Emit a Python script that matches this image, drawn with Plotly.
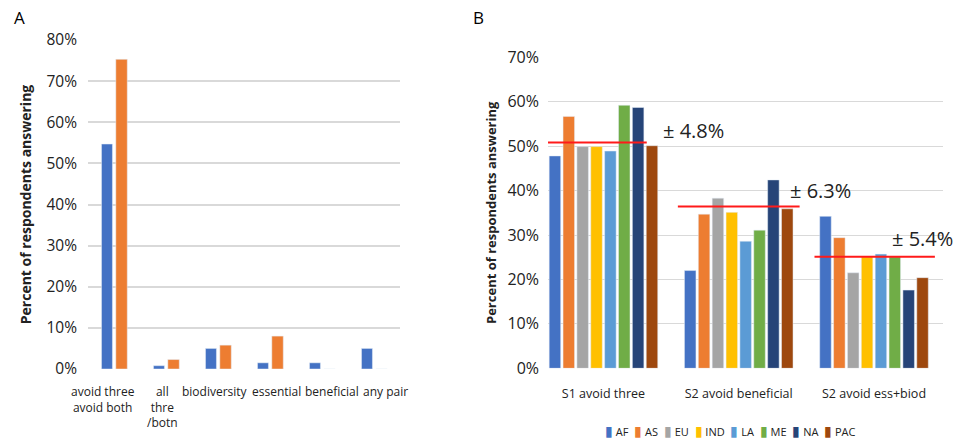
import plotly.graph_objects as go

# ---------------- data ----------------
cats_a = ["avoid three<br>avoid both", "all<br>thre<br>/botn", "biodiversity",
          "essential", "beneficial", "any pair"]
series_a_names = ["S1", "S2"]
blue_a = [54.7, 0.8, 5.0, 1.5, 1.5, 5.0]
orange_a = [75.3, 2.3, 5.8, 8.0, 0.0, 0.0]

cats_b = ["S1 avoid three", "S2 avoid beneficial", "S2 avoid ess+biod"]
regions = ["AF", "AS", "EU", "IND", "LA", "ME", "NA", "PAC"]
af = [47.8, 22.0, 34.2]
as_ = [56.7, 34.7, 29.4]
eu = [49.9, 38.3, 21.5]
ind = [49.9, 35.1, 25.1]
la = [48.9, 28.6, 25.7]
me = [59.2, 31.1, 25.1]
na = [58.7, 42.4, 17.6]
pac = [50.1, 35.9, 20.4]
means_b = [50.8, 36.4, 25.1]
margins_b = [4.8, 6.3, 5.4]

ticks_a = [0, 10, 20, 30, 40, 50, 60, 70, 80]
ticks_b = [0, 10, 20, 30, 40, 50, 60, 70]
ticklabels_a = [f"{t}%" for t in ticks_a]
ticklabels_b = [f"{t}%" for t in ticks_b]

# ---------------- style ----------------
FONT = "Open Sans"
TXT = "#222222"
GRID = "#d9d9d9"
colors_a = ["#4472C4", "#ED7D31"]
colors_b = ["#4472C4", "#ED7D31", "#A5A5A5", "#FFC000", "#5B9BD5",
            "#70AD47", "#264478", "#9E480E"]
values_b = [af, as_, eu, ind, la, me, na, pac]
offsets_a = [-0.24, 0.035]
widths_a = [0.21, 0.22]
label_shift_a = [-11.5, -4, -3.5, 6, 10, 11.5]   # px shift of category labels
line_span = [(-0.41, 0.32), (-0.45, 0.45), (-0.44, 0.45)]
label_pos = [(0.662, 53.6), (1.601, 40.1), (2.355, 29.3)]
# white patches behind the margin labels (hide gridlines only)
patch = [(0.322, 0.950, 49.5, 57.7), (1.305, 1.882, 37.0, 43.3),
         (2.119, 2.622, 26.6, 32.3)]

fig = go.Figure()

for name, vals, col, off, w in zip(series_a_names, [blue_a, orange_a], colors_a,
                                   offsets_a, widths_a):
    fig.add_trace(go.Bar(x=cats_a, y=vals, name=name, marker_color=col,
                         offset=off, width=w, xaxis="x", yaxis="y",
                         showlegend=False))

for name, vals, col in zip(regions, values_b, colors_b):
    fig.add_trace(go.Bar(x=cats_b, y=vals, name=name, marker_color=col,
                         xaxis="x2", yaxis="y2", showlegend=False))

shapes = []
annotations = []
for p in patch:
    shapes.append(dict(type="rect", xref="x2", yref="y2", x0=p[0], x1=p[1],
                       y0=p[2], y1=p[3], fillcolor="white", line_width=0,
                       layer="below"))
for i, (m, span) in enumerate(zip(means_b, line_span)):
    shapes.append(dict(type="line", xref="x2", yref="y2",
                       x0=i + span[0], x1=i + span[1], y0=m, y1=m,
                       line=dict(color="#FF1A1A", width=2)))
for mg, pos in zip(margins_b, label_pos):
    annotations.append(dict(xref="x2", yref="y2", x=pos[0], y=pos[1],
                            text=f"± {mg}%", showarrow=False,
                            xanchor="center", yanchor="middle",
                            font=dict(family=FONT, size=20, color=TXT)))

# category labels of panel A (placed like the original layout)
for cat, sh in zip(cats_a, label_shift_a):
    annotations.append(dict(xref="x", yref="y", x=cat, y=0, text=cat,
                            showarrow=False, xanchor="center", yanchor="top",
                            align="center", xshift=sh, yshift=-12,
                            font=dict(family=FONT, size=12, color=TXT)))

# custom compact legend
legend_txt = "  ".join(
    f"<span style='color:{c};font-size:14px'>▮</span> {r}"
    for r, c in zip(regions, colors_b))
annotations.append(dict(xref="paper", yref="paper", x=730 / 958, y=9 / 439,
                        text=legend_txt, showarrow=False, xanchor="center",
                        yanchor="middle",
                        font=dict(family=FONT, size=11, color=TXT)))
annotations.append(dict(xref="paper", yref="paper", x=12 / 958, y=1 - 18 / 439,
                        text="A", showarrow=False, xanchor="left",
                        yanchor="middle", font=dict(family=FONT, size=17, color="#000")))
annotations.append(dict(xref="paper", yref="paper", x=471 / 958, y=1 - 18 / 439,
                        text="B", showarrow=False, xanchor="left",
                        yanchor="middle", font=dict(family=FONT, size=17, color="#000")))

fig.update_layout(
    width=958, height=439,
    margin=dict(l=0, r=0, t=0, b=0, autoexpand=False),
    paper_bgcolor="white", plot_bgcolor="white",
    barmode="group", bargap=0.18, bargroupgap=0.17,
    font=dict(family=FONT, color=TXT),
    xaxis=dict(domain=[88 / 958, 400 / 958], range=[-0.5, 5.5],
               showgrid=False, zeroline=False, showline=False,
               showticklabels=False, automargin=False, anchor="y"),
    yaxis=dict(domain=[(439 - 369) / 439, (439 - 40) / 439], range=[0, 80],
               tickmode="array", tickvals=ticks_a, ticktext=ticklabels_a,
               showgrid=True, gridcolor=GRID, gridwidth=1.8, zeroline=False,
               tickfont=dict(size=15.5, color=TXT), ticklabelstandoff=10,
               title=dict(text="<b>Percent of respondents answering</b>",
                          font=dict(size=14, color=TXT), standoff=11),
               automargin=False, anchor="x"),
    xaxis2=dict(domain=[548 / 958, 943 / 958], range=[-0.41, 2.51],
                showgrid=False, zeroline=False, showline=False,
                tickangle=0,
                tickfont=dict(size=12.5, color=TXT), ticklabelstandoff=16,
                automargin=False, anchor="y2"),
    yaxis2=dict(domain=[(439 - 368.3) / 439, (439 - 57.3) / 439], range=[0, 70],
                tickmode="array", tickvals=ticks_b, ticktext=ticklabels_b,
                showgrid=True, gridcolor=GRID, gridwidth=1.3, zeroline=False,
                tickfont=dict(size=16, color=TXT), ticklabelstandoff=8,
                title=dict(text="<b>Percent of respondents answering</b>",
                           font=dict(size=13, color=TXT), standoff=7),
                automargin=False, anchor="x2"),
    shapes=shapes,
    annotations=annotations,
)

fig.write_html("out.html")
